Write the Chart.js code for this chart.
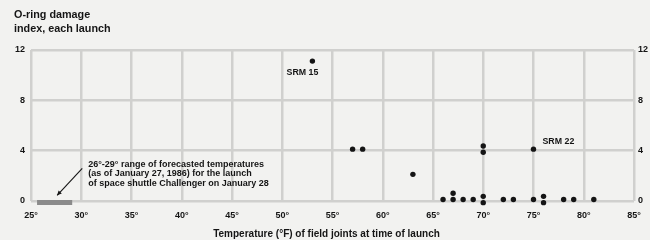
<!DOCTYPE html>
<html>
<head>
<meta charset="utf-8">
<script src="https://cdn.jsdelivr.net/npm/chart.js@4/dist/chart.umd.min.js"></script>
<style>
  html, body { margin: 0; padding: 0; background: #f2f2f0; }
  #wrap { width: 650px; height: 240px; position: relative; }
</style>
</head>
<body>
<div id="wrap"><canvas id="c" width="650" height="240"></canvas></div>
<script>
// Launch temperature (°F) of field joints and O-ring damage index, each launch
const temperatures = [66, 70, 69, 68, 67, 72, 73, 70, 57, 63, 70, 78, 67, 53, 67, 75, 70, 81, 76, 79, 75, 76, 58];
const damageIndex  = [ 0,  4,  0,  0,  0,  0,  0,  0,  4,  2,  4,  0,  0, 11,  0,  0,  0,  0,  0,  0,  4,  0,  4];
const pointLabels = [
  { temp: 53, damage: 11, text: 'SRM 15' },
  { temp: 75, damage: 4,  text: 'SRM 22' }
];
const forecastRange = [26, 29];
const forecastNote = [
  '26°-29° range of forecasted temperatures',
  '(as of January 27, 1986) for the launch',
  'of space shuttle Challenger on January 28'
];
const xTicks = [25, 30, 35, 40, 45, 50, 55, 60, 65, 70, 75, 80, 85];
const yTicks = [0, 4, 8, 12];
const yTitle = ['O-ring damage', 'index, each launch'];
const xTitle = 'Temperature (°F) of field joints at time of launch';

const FONT = '"Liberation Sans", Arial, Helvetica, sans-serif';
const GRID = '#d0d0ce';
const INK = '#151515';

const points = temperatures.map((t, i) => ({ x: t, y: damageIndex[i] }));

// stack coincident points vertically, like the original
const stackPlugin = {
  id: 'stack',
  afterDatasetsUpdate(chart) {
    const meta = chart.getDatasetMeta(0);
    const groups = {};
    meta.data.forEach((el, i) => {
      const p = points[i];
      const k = p.x + '|' + p.y;
      (groups[k] = groups[k] || []).push(el);
    });
    Object.values(groups).forEach(g => {
      const n = g.length;
      g.forEach((el, j) => { el.y += (j - (n - 1) / 2) * 6.3 - 1.5; });
    });
  }
};

const decorPlugin = {
  id: 'decor',
  beforeDraw(chart) {
    const ctx = chart.ctx;
    ctx.save();
    ctx.fillStyle = '#f2f2f0';
    ctx.fillRect(0, 0, chart.width, chart.height);
    ctx.restore();
  },
  afterDatasetsDraw(chart) {
    const ctx = chart.ctx;
    const xs = chart.scales.x, ys = chart.scales.y;
    ctx.save();
    // forecast range bar
    const x0 = xs.getPixelForValue(forecastRange[0]);
    const x1 = xs.getPixelForValue(forecastRange[1]);
    const yb = ys.getPixelForValue(0);
    ctx.fillStyle = '#8b8b8b';
    ctx.fillRect(x0 - 4, yb - 1, x1 - x0 + 5, 5);

    // arrow
    const ax0 = xs.getPixelForValue(30) + 1, ay0 = ys.getPixelForValue(2.6);
    const ax1 = xs.getPixelForValue(27.6), ay1 = ys.getPixelForValue(0.45);
    ctx.strokeStyle = INK; ctx.fillStyle = INK; ctx.lineWidth = 1.1;
    ctx.beginPath(); ctx.moveTo(ax0, ay0); ctx.lineTo(ax1, ay1); ctx.stroke();
    const ang = Math.atan2(ay1 - ay0, ax1 - ax0);
    ctx.beginPath();
    ctx.moveTo(ax1, ay1);
    ctx.lineTo(ax1 - 5 * Math.cos(ang - 0.45), ay1 - 5 * Math.sin(ang - 0.45));
    ctx.lineTo(ax1 - 5 * Math.cos(ang + 0.45), ay1 - 5 * Math.sin(ang + 0.45));
    ctx.closePath(); ctx.fill();

    // note text
    ctx.font = 'bold 9px ' + FONT;
    ctx.textBaseline = 'middle';
    ctx.textAlign = 'left';
    const nx = ax0 + 6, ny = ay0 - 4;
    forecastNote.forEach((s, i) => ctx.fillText(s, nx, ny + i * 9.7));

    // point labels
    ctx.font = 'bold 8.8px ' + FONT;
    pointLabels.forEach(l => {
      const px = xs.getPixelForValue(l.temp), py = ys.getPixelForValue(l.damage);
      if (l.damage > 8) {
        ctx.textAlign = 'center';
        ctx.fillText(l.text, px - 10, py + 10);
      } else {
        ctx.textAlign = 'left';
        ctx.fillText(l.text, px + 9, py - 9);
      }
    });

    // y title
    ctx.font = 'bold 10.8px ' + FONT;
    ctx.textAlign = 'left';
    yTitle.forEach((s, i) => ctx.fillText(s, 14, 15 + i * 14.5));

    // x title
    ctx.font = 'bold 10px ' + FONT;
    ctx.textAlign = 'center';
    ctx.fillText(xTitle, (xs.left + xs.right) / 2 - 6, 234);
    ctx.restore();
  }
};

new Chart(document.getElementById('c'), {
  type: 'scatter',
  data: {
    datasets: [{
      data: points,
      backgroundColor: INK,
      borderColor: INK,
      pointRadius: 2.7,
      pointBorderWidth: 0,
      clip: false
    }]
  },
  options: {
    responsive: false,
    animation: false,
    events: [],
    layout: { padding: { top: 50, left: 0, right: 0, bottom: 0 } },
    plugins: { legend: { display: false }, tooltip: { enabled: false } },
    scales: {
      x: {
        type: 'linear', min: xTicks[0], max: xTicks[xTicks.length - 1],
        afterBuildTicks: s => { s.ticks = xTicks.map(v => ({ value: v })); },
        afterFit: s => { s.height = 39; },
        grid: { color: GRID, lineWidth: 2.5, drawTicks: false },
        border: { display: false },
        ticks: {
          padding: 9, color: INK,
          font: { family: FONT, size: 9, weight: 'bold' },
          callback: v => v + '°', maxRotation: 0, autoSkip: false
        }
      },
      y: {
        position: 'left', min: 0, max: 12,
        afterBuildTicks: s => { s.ticks = yTicks.map(v => ({ value: v })); },
        afterFit: s => { s.width = 31; },
        grid: { color: GRID, lineWidth: 2.5, drawTicks: false },
        border: { display: false },
        ticks: { padding: 6, color: INK, font: { family: FONT, size: 9, weight: 'bold' } }
      },
      y2: {
        position: 'right', min: 0, max: 12,
        afterBuildTicks: s => { s.ticks = yTicks.map(v => ({ value: v })); },
        afterFit: s => { s.width = 16; },
        grid: { display: false, drawTicks: false },
        border: { display: false },
        ticks: { padding: 4, color: INK, font: { family: FONT, size: 9, weight: 'bold' } }
      }
    }
  },
  plugins: [stackPlugin, decorPlugin]
});
</script>
</body>
</html>
